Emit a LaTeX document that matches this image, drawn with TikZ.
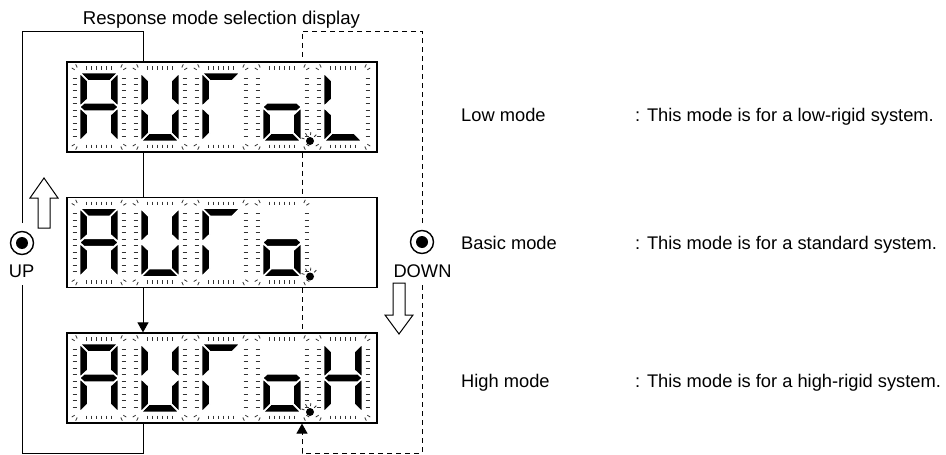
\documentclass[tikz,border=0pt]{standalone}
\usepackage{fontspec}
\setmainfont{Liberation Sans}
\usetikzlibrary{arrows.meta}
\tikzset{
 seg/.style={fill=black, draw=white, line width=1.6pt, line join=round},
 tick/.style={line width=0.8pt, black!80, line cap=butt},
 box/.style={draw, line width=1.2pt, fill=white, minimum width=310pt, minimum height=90pt, inner sep=0pt},
 conn/.style={line width=1pt},
 dconn/.style={line width=1pt, dash pattern=on 5pt off 4pt},
 tipend/.style={-{Triangle[width=11pt,length=10pt]}},
 btn/.style={circle, draw, line width=1.4pt, minimum size=23pt, inner sep=0pt},
 lbl/.style={font=\fontsize{18.3}{22}\selectfont, inner sep=0pt, anchor=base west},
 clbl/.style={font=\fontsize{18.3}{22}\selectfont, inner sep=0pt, anchor=base},
 hollow/.style={draw, line width=1pt, fill=white, line join=miter},
}
\def\sega{\path[seg] (-19.5,-34.5) -- (19.5,-34.5) -- (11,-26) -- (-11,-26) -- cycle;}
\def\segd{\path[seg] (-19.5,34.5) -- (19.5,34.5) -- (11,26) -- (-11,26) -- cycle;}
\def\segf{\path[seg] (-19.5,-34.5) -- (-11,-26) -- (-11,-8.03) -- (-19.5,0) -- cycle;}
\def\sege{\path[seg] (-19.5,34.5) -- (-11,26) -- (-11,8.03) -- (-19.5,0) -- cycle;}
\def\segb{\path[seg] (19.5,-34.5) -- (11,-26) -- (11,-8.03) -- (19.5,0) -- cycle;}
\def\segc{\path[seg] (19.5,34.5) -- (11,26) -- (11,8.03) -- (19.5,0) -- cycle;}
\def\segg{\path[seg] (-19.5,0) -- (-15,-4.25) -- (15,-4.25) -- (19.5,0) -- (15,4.25) -- (-15,4.25) -- cycle;}
\newcommand\sdigit[3]{%
 \begin{scope}[shift={(#1,#2)}]
  \foreach \tx in {-12.5,-7.5,-2.5,2.5,7.5,12.5}{%
   \draw[tick] (\tx,-41) -- (\tx,-37.5);
   \draw[tick] (\tx,37.5) -- (\tx,41);}
  \foreach \i in {0,...,9}{%
   \pgfmathsetmacro\ty{-29+\i*6.444}
   \draw[tick] (-26.5,\ty) -- (-22.5,\ty);
   \draw[tick] (22.5,\ty) -- (26.5,\ty);}
  \foreach \ccx/\ccy/\aa/\bb in {-19.5/-34.5/210/245, 19.5/-34.5/295/330, -19.5/34.5/115/150, 19.5/34.5/30/65}{%
   \draw[tick] (\ccx,\ccy) ++(\aa:5.5) -- ++(\aa:3.5);
   \draw[tick] (\ccx,\ccy) ++(\bb:5.5) -- ++(\bb:3.5);}
  \foreach \s in {#3}{\csname seg\s\endcsname}
 \end{scope}}
\newcommand\sdot[2]{%
 \begin{scope}[shift={(#1,#2)}]
  \fill (0,0) circle (4pt);
  \foreach \aa in {200,240,275,315}{\draw[tick] (0,0) ++(\aa:6) -- ++(\aa:3);}
 \end{scope}}
\begin{document}
\begin{tikzpicture}[x=1pt,y=-1pt]
\useasboundingbox (0,0) rectangle (946,455);
% boxes
\node[box] (b1) at (222,107) {};
\node[box] (b2) at (222,242.5) {};
\node[box] (b3) at (222,378) {};
% digits
\sdigit{99}{107}{a,b,c,e,f,g}
\sdigit{160}{107}{b,c,d,e,f}
\sdigit{221}{107}{a,e,f}
\sdigit{282}{107}{c,d,e,g}
\sdigit{343}{107}{d,e,f}
\sdot{310}{141}
\sdigit{99}{242.5}{a,b,c,e,f,g}
\sdigit{160}{242.5}{b,c,d,e,f}
\sdigit{221}{242.5}{a,e,f}
\sdigit{282}{242.5}{c,d,e,g}
\sdot{310}{276.5}
\sdigit{99}{378}{a,b,c,e,f,g}
\sdigit{160}{378}{b,c,d,e,f}
\sdigit{221}{378}{a,e,f}
\sdigit{282}{378}{c,d,e,g}
\sdigit{343}{378}{b,c,e,f,g}
\sdot{310}{412}
% helper coordinates
\coordinate (xs) at (143,0);
\coordinate (xd) at (302,0);
\coordinate (xl) at (22,0);
\coordinate (xr) at (422,0);
\coordinate (ytop) at (0,31);
\coordinate (ybot) at (0,453);
\coordinate (uph) at (22,223);
\coordinate (upl) at (22,285);
\coordinate (dnh) at (422,223);
\coordinate (dnl) at (422,285);
% title
\node[clbl, font=\fontsize{18.6}{22}\selectfont] (title) at (221.5,24) {Response mode selection display};
% buttons
\node[btn] (up) at (22,243) {};
\fill (up.center) circle (6pt);
\node[clbl] (uptxt) at (21.5,277) {UP};
\node[btn] (dn) at (422,242) {};
\fill (dn.center) circle (6pt);
\node[clbl] (dntxt) at (422.5,277) {DOWN};
% solid connectors
\draw[conn] (b1.south -| xs) -- (b2.north -| xs);
\draw[conn, tipend] (b2.south -| xs) -- (b3.north -| xs);
\draw[conn] (b3.south -| xs) -- (xs |- ybot) -- (xl |- ybot) -- (upl);
\draw[conn] (uph) -- (xl |- ytop) -- (xs |- ytop) -- (b1.north -| xs);
% dashed connectors
\draw[dconn] (b1.south -| xd) -- (b2.north -| xd);
\draw[dconn] (b2.south -| xd) -- (b3.north -| xd);
\draw[dconn] (dnh) -- (xr |- ytop) -- (xd |- ytop) -- (b1.north -| xd);
\draw[dconn, tipend] (dnl) -- (xr |- ybot) -- (xd |- ybot) -- (b3.south -| xd);
% hollow arrows
\draw[hollow] (44,178) -- (58,198) -- (50,198) -- (50,228) -- (38,228) -- (38,198) -- (30,198) -- cycle;
\draw[hollow] (399,334) -- (413,315) -- (405,315) -- (405,283) -- (393,283) -- (393,315) -- (385,315) -- cycle;
% mode texts
\node[lbl] (lowm) at (461,121) {Low mode};
\node[lbl] (lowd) at (635,121) {: This mode is for a low-rigid system.};
\node[lbl] (basm) at (461,249) {Basic mode};
\node[lbl] (basd) at (635,249) {: This mode is for a standard system.};
\node[lbl] (higm) at (461,387) {High mode};
\node[lbl] (higd) at (635,387) {: This mode is for a high-rigid system.};
\end{tikzpicture}
\end{document}
